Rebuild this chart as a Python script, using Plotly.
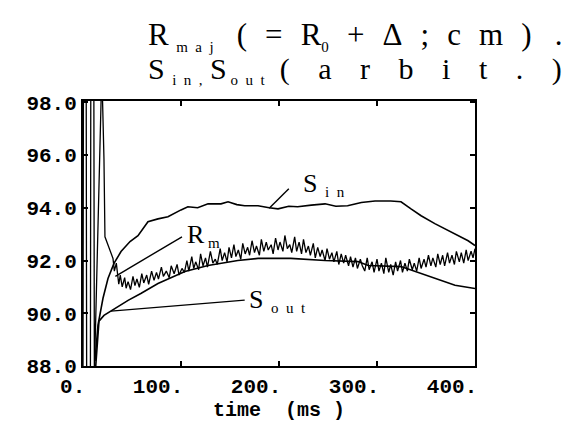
import plotly.graph_objects as go

# ---- data ----
# R_maj trace as (time ms, value) pairs
rmaj_tv = [
    (0, 88.0), (0.5, 100.0), (3.2, 100.0), (3.8, 86.0), (7.5, 86.0), (8.0, 100.0), (11.0, 100.0), (11.6, 87.7),
    (19.2, 99.2), (21.4, 95.85), (22.4, 92.9), (26.5, 92.45), (30.6, 92.08),
    (32, 91.6), (34, 91.9), (36.5, 91.1), (38, 91.45), (40, 91.0), (42.5, 91.35), (44, 90.95), (46, 91.2),
    (48.5, 90.9), (51, 91.4), (53, 91.05), (55, 91.3), (57.5, 90.98), (60, 91.5), (62, 91.15), (65, 91.45),
    (67, 91.1), (70, 91.6), (72.5, 91.25), (75, 91.55), (77, 91.3), (80, 91.75), (82, 91.4), (85, 91.6),
    (88, 91.35), (90, 91.8), (93, 91.5), (96, 91.85), (98, 91.45), (101, 91.7), (103.5, 91.55), (106, 92.0),
    (108, 91.6), (111, 92.15), (113, 91.7), (115, 91.95), (118, 91.65), (120, 92.25), (122.5, 91.8), (125, 92.1),
    (127, 91.75), (130, 92.35), (132.5, 91.9), (135, 92.05), (137, 91.85), (140, 92.45), (142, 92.0), (144.5, 92.3),
    (147, 91.95), (149, 92.5), (151.5, 92.1), (154, 92.6), (156, 92.15), (158.5, 92.4), (161, 92.05), (163, 92.65),
    (165.5, 92.25), (168, 92.5), (170, 92.2), (172.5, 92.75), (175, 92.3), (177, 92.55), (180, 92.2), (182, 92.8),
    (184.5, 92.35), (187, 92.7), (189, 92.4), (192, 92.6), (194, 92.25), (196.5, 92.85), (199, 92.4), (201, 92.7),
    (204, 92.35), (206, 92.95), (208.5, 92.45), (211, 92.6), (213, 92.3), (216, 92.9), (218, 92.35), (220.5, 92.7),
    (223, 92.25), (225, 92.8), (227.5, 92.3), (230, 92.55), (232, 92.2), (235, 92.65), (237, 92.1), (239.5, 92.5),
    (242, 92.15), (244, 92.4), (247, 92.0), (249, 92.45), (251.5, 92.05), (254, 92.3), (256, 91.95), (259, 92.35),
    (261, 91.85), (263.5, 92.25), (266, 91.9), (268, 92.2), (271, 91.8), (273, 92.15), (275.5, 91.75), (278, 92.1),
    (280, 91.7), (283, 92.05), (285, 91.8), (287.5, 91.6), (290, 92.1), (292, 91.65), (295, 91.95), (297, 91.55),
    (300, 92.05), (302, 91.6), (304.5, 91.9), (307, 91.5), (309, 92.1), (312, 91.55), (314, 91.85), (316.5, 91.45),
    (319, 91.95), (321, 91.6), (324, 92.0), (326, 91.55), (328.5, 91.9), (331, 91.6), (333, 92.05), (336, 91.65),
    (338, 91.9), (340.5, 91.6), (343, 92.1), (345, 91.7), (348, 92.05), (350, 91.75), (352.5, 92.2), (355, 91.8),
    (357, 92.1), (360, 91.75), (362, 92.25), (364.5, 91.85), (367, 92.2), (369, 91.8), (372, 92.3), (374, 91.9),
    (376.5, 92.2), (379, 91.85), (381, 92.35), (384, 91.95), (386, 92.3), (388.5, 91.9), (391, 92.4), (393, 92.0),
    (396, 92.35), (398, 92.1), (400, 92.45),
]
t_rmaj = [p[0] for p in rmaj_tv]
v_rmaj = [p[1] for p in rmaj_tv]

t_sin = [12.2, 15.3, 20.4, 25.5, 31.6, 38.8, 48, 56.1, 66.3, 76.5, 86.7, 91.8, 100, 107, 117, 127.6, 140.8, 148, 157, 165, 178.6, 190, 199, 210, 219, 233, 247, 258, 270, 284, 298, 314, 324.5, 334.7, 345, 359, 375.5, 393, 400]
v_sin = [88.19, 89.55, 90.57, 91.32, 91.89, 92.34, 92.72, 92.94, 93.47, 93.58, 93.66, 93.77, 93.92, 94.04, 94.0, 94.15, 94.15, 94.23, 94.12, 94.08, 94.08, 94.0, 93.96, 94.06, 94.04, 94.1, 94.15, 94.06, 94.08, 94.2, 94.26, 94.26, 94.23, 93.96, 93.70, 93.40, 93.09, 92.75, 92.57]

t_sout = [13.0, 16.3, 21.4, 32.7, 46, 59, 76.5, 104, 127.6, 158, 178.6, 212, 247, 280.6, 291, 324.5, 339, 359, 379.6, 400]
v_sout = [88.0, 89.7, 89.92, 90.19, 90.49, 90.75, 91.13, 91.58, 91.81, 92.0, 92.08, 92.08, 92.0, 91.96, 91.81, 91.77, 91.58, 91.32, 91.06, 90.94]

x_ticks = [0, 100, 200, 300, 400]
x_ticktext = ["0.", "100.", "200.", "300.", "400."]
y_ticks = [88, 90, 92, 94, 96, 98]
y_ticktext = ["88.0", "90.0", "92.0", "94.0", "96.0", "98.0"]

line = dict(color="black", width=1.6)
fig = go.Figure()
fig.add_trace(go.Scatter(x=t_rmaj, y=v_rmaj, mode="lines", line=dict(color="black", width=1.3), name="R_maj"))
fig.add_trace(go.Scatter(x=t_sin, y=v_sin, mode="lines", line=line, name="S_in"))
fig.add_trace(go.Scatter(x=t_sout, y=v_sout, mode="lines", line=line, name="S_out"))

tickfont = dict(family="Liberation Mono", size=21, color="black", weight="bold")
fig.update_xaxes(range=[0, 400], tickvals=x_ticks, ticktext=x_ticktext, ticks="inside", ticklen=5,
                 tickwidth=1.5, tickcolor="black", showline=True, linecolor="black", linewidth=2,
                 mirror="ticks", showgrid=False, zeroline=False, tickfont=tickfont,
                 ticklabelposition="outside left", ticklabelshift=4,
                 title=dict(text="time  (ms )", font=dict(family="Liberation Mono", size=20, color="black", weight="bold"), standoff=4))
fig.update_yaxes(range=[88, 98.05], tickvals=y_ticks, ticktext=y_ticktext, ticks="inside", ticklen=5,
                 tickwidth=1.5, tickcolor="black", showline=True, linecolor="black", linewidth=2,
                 mirror="ticks", showgrid=False, zeroline=False, tickfont=tickfont)

NB = "\u00a0"
HS = "\u200a"
g1 = NB * 2 + HS
g2 = NB * 3 + "\u2009"


def sub(s):
    return '<sub><span style="font-size:15px">' + s + '</span></sub>'


title1 = ("R" + sub(NB * 2 + "m" + NB * 2 + "a" + NB * 2 + "j" + NB * 2) + NB * 2 + "(" + g1 + "=" + g1 + "R" + sub("0")
          + g1 + "+" + g1 + "Δ" + g1 + ";" + g1 + "c" + g1 + "m" + g1 + ")" + NB * 3 + ".")
title2 = ("S" + sub(NB * 2 + "i" + NB * 2 + "n" + NB * 2 + "," + NB * 2) + "S"
          + sub(NB + "o" + NB * 2 + "u" + NB * 2 + "t") + NB * 2 + "(" + g2 + "a" + g2 + "r" + g2 + "b" + g2 + "i"
          + g2 + "t" + g2 + "." + g2 + ")")

lab = dict(family="Liberation Serif", size=26, color="black")
ann = [
    dict(xref="paper", yref="paper", x=0.16, y=1.0, yshift=65, xanchor="left", yanchor="middle", showarrow=False,
         text=title1, font=dict(family="Liberation Serif", size=31, color="black")),
    dict(xref="paper", yref="paper", x=0.16, y=1.0, yshift=31, xanchor="left", yanchor="middle", showarrow=False,
         text=title2, font=dict(family="Liberation Serif", size=30, color="black")),
    dict(x=222, y=94.9, showarrow=False, text="S" + sub(NB * 2 + "i" + NB * 2 + "n"), xanchor="left", font=lab),
    dict(x=104, y=92.95, showarrow=False, text="R" + sub(NB + "m"), xanchor="left", font=lab),
    dict(x=167, y=90.5, showarrow=False, text="S" + sub(NB * 2 + "o" + NB * 2 + "u" + NB * 2 + "t"), xanchor="left", font=lab),
]
pointer = dict(color="black", width=1.4)
shapes = [
    dict(type="line", xref="x", yref="y", x0=190, y0=93.98, x1=210, y1=94.72, line=pointer),
    dict(type="line", xref="x", yref="y", x0=33, y0=91.4, x1=101, y1=92.9, line=pointer),
    dict(type="line", xref="x", yref="y", x0=28.6, y0=90.08, x1=165, y1=90.5, line=pointer),
]
fig.update_layout(width=576, height=425, margin=dict(l=75, r=109, t=93, b=67),
                  plot_bgcolor="white", paper_bgcolor="white", showlegend=False,
                  annotations=ann, shapes=shapes)
fig.write_html("out.html")
